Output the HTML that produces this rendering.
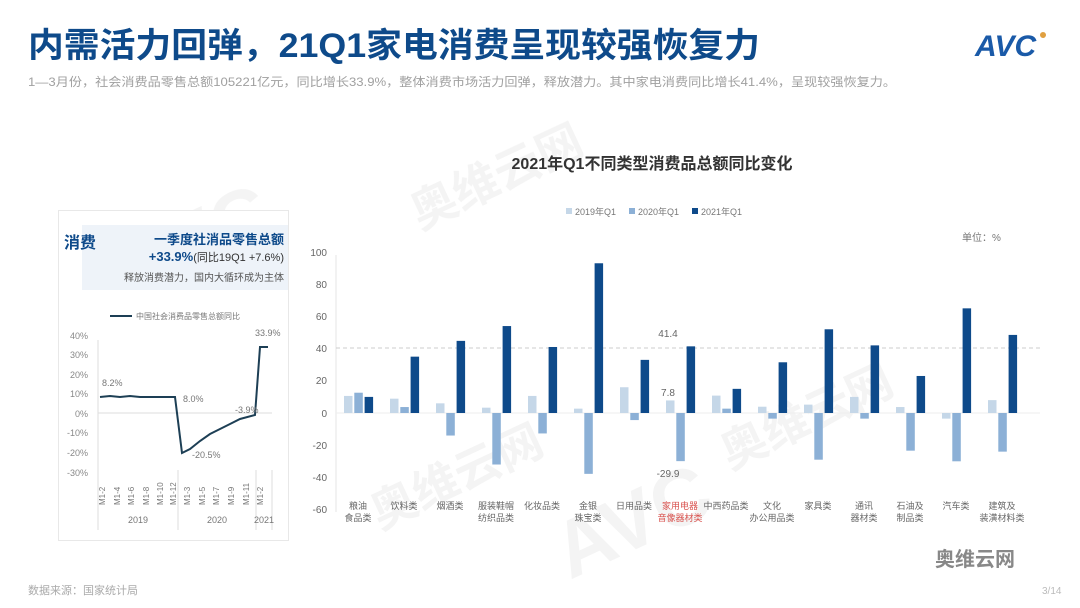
<!DOCTYPE html>
<html><head><meta charset="utf-8"><style>
body{margin:0;background:#fff;}
svg{display:block;font-family:"Liberation Sans","Noto Sans CJK SC",sans-serif;}
</style></head><body>
<svg width="1080" height="608" viewBox="0 0 1080 608" xmlns="http://www.w3.org/2000/svg">
<rect width="1080" height="608" fill="#fff"/>
<g fill="#000" opacity="0.045" font-weight="bold">
<text x="130" y="300" font-size="80" transform="rotate(-25 130 300)">AVC</text>
<text x="420" y="230" font-size="46" transform="rotate(-25 420 230)">奥维云网</text>
<text x="570" y="580" font-size="80" transform="rotate(-25 570 580)">AVC</text>
<text x="730" y="470" font-size="46" transform="rotate(-25 730 470)">奥维云网</text>
<text x="380" y="530" font-size="46" transform="rotate(-25 380 530)">奥维云网</text>
</g>
<text x="28" y="57" font-size="34" font-weight="bold" fill="#0e4a8a" textLength="732" lengthAdjust="spacingAndGlyphs">内需活力回弹，21Q1家电消费呈现较强恢复力</text>
<text x="28" y="86" font-size="12" fill="#a0a0a0" textLength="868" lengthAdjust="spacingAndGlyphs">1—3月份，社会消费品零售总额105221亿元，同比增长33.9%，整体消费市场活力回弹，释放潜力。其中家电消费同比增长41.4%，呈现较强恢复力。</text>
<text x="975" y="56" font-size="30" font-weight="bold" fill="#1a5aa8" font-style="italic">AVC</text>
<circle cx="1043" cy="35" r="3" fill="#e0a040"/>
<rect x="58.5" y="210.5" width="230" height="330" fill="#fff" stroke="#e8e8e8"/>
<rect x="82" y="225" width="206" height="65" fill="#eef3f9"/>
<text x="64" y="248" font-size="16" font-weight="bold" fill="#0e4a8a">消费</text>
<text x="284" y="244" font-size="13" font-weight="bold" fill="#0e4a8a" text-anchor="end">一季度社消品零售总额</text>
<text x="284" y="261" font-size="11" fill="#333" text-anchor="end"><tspan font-size="13" font-weight="bold" fill="#0e4a8a">+33.9%</tspan>(同比19Q1 +7.6%)</text>
<text x="284" y="281" font-size="10" fill="#555" text-anchor="end">释放消费潜力，国内大循环成为主体</text>
<line x1="110" y1="316" x2="132" y2="316" stroke="#1d3f55" stroke-width="2"/>
<text x="136" y="319" font-size="8" fill="#777">中国社会消费品零售总额同比</text>
<g font-size="9" fill="#888" text-anchor="end">
<text x="88" y="339">40%</text><text x="88" y="358">30%</text><text x="88" y="378">20%</text><text x="88" y="397">10%</text><text x="88" y="417">0%</text><text x="88" y="436">-10%</text><text x="88" y="456">-20%</text><text x="88" y="476">-30%</text>
</g>
<line x1="98" y1="340" x2="98" y2="530" stroke="#ddd"/>
<line x1="98" y1="413" x2="272" y2="413" stroke="#ddd"/>
<line x1="178" y1="470" x2="178" y2="530" stroke="#ddd"/><line x1="256" y1="470" x2="256" y2="530" stroke="#ddd"/><line x1="272" y1="470" x2="272" y2="530" stroke="#ddd"/>
<polyline fill="none" stroke="#1d3f55" stroke-width="2" points="100,397 110,396 120,397 130,396 140,397 150,397 160,397 175,397 182,453 190,449 200,441 210,434 220,429 230,424 240,419 255,415 260,347 268,347"/>
<g font-size="9" fill="#777">
<text x="102" y="386">8.2%</text><text x="183" y="402">8.0%</text><text x="192" y="458">-20.5%</text><text x="235" y="413">-3.9%</text><text x="255" y="336">33.9%</text>
</g>
<g font-size="8" fill="#777">
<text transform="translate(105 505) rotate(-90)">M1-2</text>
<text transform="translate(120 505) rotate(-90)">M1-4</text>
<text transform="translate(134 505) rotate(-90)">M1-6</text>
<text transform="translate(149 505) rotate(-90)">M1-8</text>
<text transform="translate(163 505) rotate(-90)">M1-10</text>
<text transform="translate(176 505) rotate(-90)">M1-12</text>
<text transform="translate(190 505) rotate(-90)">M1-3</text>
<text transform="translate(205 505) rotate(-90)">M1-5</text>
<text transform="translate(219 505) rotate(-90)">M1-7</text>
<text transform="translate(234 505) rotate(-90)">M1-9</text>
<text transform="translate(249 505) rotate(-90)">M1-11</text>
<text transform="translate(263 505) rotate(-90)">M1-2</text>
</g>
<g font-size="9" fill="#777" text-anchor="middle"><text x="138" y="523">2019</text><text x="217" y="523">2020</text><text x="264" y="523">2021</text></g>
<text x="652" y="169" font-size="16" font-weight="bold" fill="#333" text-anchor="middle">2021年Q1不同类型消费品总额同比变化</text>
<g font-size="9" fill="#777">
<rect x="566" y="208" width="6" height="6" fill="#c5d7e8"/><text x="575" y="215">2019年Q1</text>
<rect x="629" y="208" width="6" height="6" fill="#8cb0d6"/><text x="638" y="215">2020年Q1</text>
<rect x="692" y="208" width="6" height="6" fill="#0e4a8a"/><text x="701" y="215">2021年Q1</text>
</g>
<text x="962" y="241" font-size="10" fill="#777">单位：%</text>
<g font-size="10" fill="#666" text-anchor="end">
<text x="327" y="256">100</text><text x="327" y="288">80</text><text x="327" y="320">60</text><text x="327" y="352">40</text><text x="327" y="384">20</text><text x="327" y="417">0</text><text x="327" y="449">-20</text><text x="327" y="481">-40</text><text x="327" y="513">-60</text>
</g>
<line x1="336" y1="255" x2="336" y2="512" stroke="#e5e5e5"/>
<line x1="336" y1="413" x2="1040" y2="413" stroke="#eee"/>
<line x1="336" y1="348" x2="1040" y2="348" stroke="#ccc" stroke-dasharray="4 3"/>
<g id="bars"></g>
<g font-size="10" fill="#666" text-anchor="middle">
<text x="668" y="337">41.4</text><text x="668" y="396">7.8</text><text x="668" y="477">-29.9</text>
</g>
<g font-size="9" fill="#666" text-anchor="middle">
<text x="358" y="509">粮油</text><text x="358" y="521">食品类</text>
<text x="404" y="509">饮料类</text>
<text x="450" y="509">烟酒类</text>
<text x="496" y="509">服装鞋帽</text><text x="496" y="521">纺织品类</text>
<text x="542" y="509">化妆品类</text>
<text x="588" y="509">金银</text><text x="588" y="521">珠宝类</text>
<text x="634" y="509">日用品类</text>
<text x="680" y="509" fill="#d9534f">家用电器</text><text x="680" y="521" fill="#d9534f">音像器材类</text>
<text x="726" y="509">中西药品类</text>
<text x="772" y="509">文化</text><text x="772" y="521">办公用品类</text>
<text x="818" y="509">家具类</text>
<text x="864" y="509">通讯</text><text x="864" y="521">器材类</text>
<text x="910" y="509">石油及</text><text x="910" y="521">制品类</text>
<text x="956" y="509">汽车类</text>
<text x="1002" y="509">建筑及</text><text x="1002" y="521">装潢材料类</text>
</g>
<text x="28" y="594" font-size="11" fill="#aaa">数据来源：国家统计局</text>
<text x="935" y="566" font-size="20" font-weight="bold" fill="#888">奥维云网</text>
<text x="1042" y="594" font-size="10" fill="#bbb">3/14</text>
</svg>
<script>
var d=[[10.6,12.6,10],[8.9,3.7,35],[6,-14,44.8],[3.3,-32,54],[10.6,-12.7,41],[2.7,-37.8,93],[16,-4.4,33],[7.8,-29.9,41.4],[10.8,2.7,15],[3.9,-3.5,31.5],[5.2,-29,52],[10,-3.5,42],[3.7,-23.4,23],[-3.5,-30,65],[8,-24,48.5]];
var c=["#c5d7e8","#8cb0d6","#0e4a8a"],g=document.getElementById("bars"),s="";
d.forEach(function(r,i){r.forEach(function(v,j){var x=344+46*i+10.3*j,h=Math.abs(v)*1.61,y=v>=0?413-h:413;
s+='<rect x="'+x+'" y="'+y+'" width="8.5" height="'+h+'" fill="'+c[j]+'"/>';});});
g.innerHTML=s;
</script>
</body></html>
